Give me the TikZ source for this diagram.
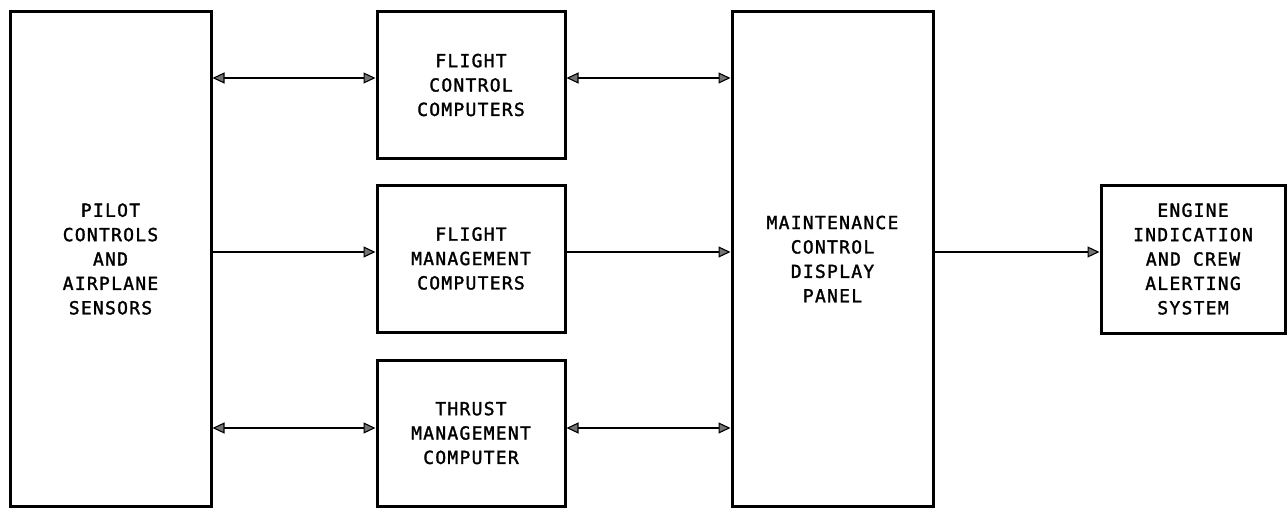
\documentclass[tikz,border=0pt]{standalone}
\usepackage{fontspec}
\usetikzlibrary{arrows.meta}
\newfontfamily\diagfont[LetterSpace=7,FakeBold=1.6]{DejaVu Sans Mono}
\begin{document}
\begin{tikzpicture}[x=1pt,y=-1pt,
  blk/.style={draw, line width=3pt, rectangle, inner sep=0pt, align=center,
    font=\diagfont\fontsize{18pt}{24.4pt}\selectfont},
  tip/.style={},
  link/.style={line width=1.1pt, -{Triangle[length=12pt,width=11pt,fill=black!55]}},
  dlink/.style={line width=1.1pt, {Triangle[length=12pt,width=11pt,fill=black!55]}-{Triangle[length=12pt,width=11pt,fill=black!55]}}]
\useasboundingbox (0,0) rectangle (1287,508);
\node[blk, minimum width=201pt, minimum height=494pt] (pilot) at (110.5,259) {PILOT\\CONTROLS\\AND\\AIRPLANE\\SENSORS};
\node[blk, minimum width=188pt, minimum height=146pt] (fcc) at (471,85) {FLIGHT\\CONTROL\\COMPUTERS};
\node[blk, minimum width=188pt, minimum height=147pt] (fmc) at (471,258.5) {FLIGHT\\MANAGEMENT\\COMPUTERS};
\node[blk, minimum width=188pt, minimum height=146pt] (tmc) at (471,433) {THRUST\\MANAGEMENT\\COMPUTER};
\node[blk, minimum width=201pt, minimum height=494pt] (mcdp) at (832.5,259) {MAINTENANCE\\CONTROL\\DISPLAY\\PANEL};
\node[blk, minimum width=184pt, minimum height=148pt] (eicas) at (1193,259) {ENGINE\\INDICATION\\AND CREW\\ALERTING\\SYSTEM};
\coordinate (r1) at (0,78);
\coordinate (r2) at (0,252);
\coordinate (r3) at (0,428);
\draw[dlink] (pilot.east |- r1) -- (fcc.west |- r1);
\draw[dlink] (fcc.east |- r1) -- (mcdp.west |- r1);
\draw[link] (pilot.east |- r2) -- (fmc.west |- r2);
\draw[link] (fmc.east |- r2) -- (mcdp.west |- r2);
\draw[link] (mcdp.east |- r2) -- (eicas.west |- r2);
\draw[dlink] (pilot.east |- r3) -- (tmc.west |- r3);
\draw[dlink] (tmc.east |- r3) -- (mcdp.west |- r3);
\end{tikzpicture}
\end{document}
